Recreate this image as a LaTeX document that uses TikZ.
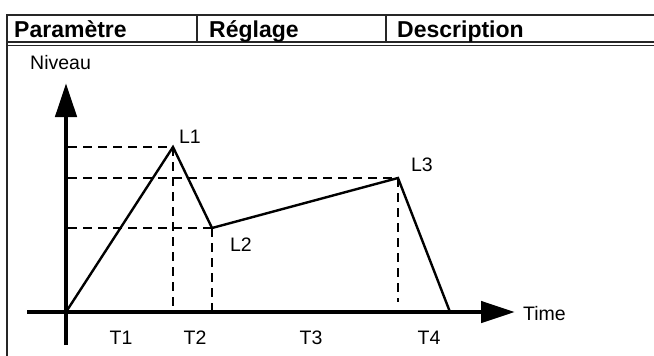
\documentclass[tikz,border=0pt]{standalone}
\usepackage{fontspec}
\setmainfont{Liberation Sans}
\usetikzlibrary{arrows.meta}
\begin{document}
\begin{tikzpicture}[x=1pt,y=-1pt,
  frame/.style={line width=1.3pt,draw=black!85},
  axis/.style={line width=4.5pt,-{Triangle[length=34pt,width=21pt]}},
  env/.style={line width=2.4pt,line join=miter},
  guide/.style={line width=2pt,dash pattern=on 9pt off 6pt},
  lbl/.style={font=\fontsize{19.5}{22}\selectfont,inner sep=0pt},
  hdr/.style={font=\fontsize{23}{25}\selectfont\bfseries,inner sep=0pt,anchor=base west}]
\useasboundingbox (0,0) rectangle (654,356);
% table frame
\draw[frame] (7,356) -- (7,15) -- (654,15);
\draw[frame] (7,42) -- (654,42);
\draw[frame] (7,45.5) -- (654,45.5);
\draw[frame] (197,15) -- (197,42);
\draw[frame] (386,15) -- (386,42);
\node[hdr] (hp) at (14,37) {Paramètre};
\node[hdr] (hr) at (209,37) {Réglage};
\node[hdr] (hd) at (397,37) {Description};
% points
\coordinate (O) at (66,312);
\coordinate (P1) at (173,147);
\coordinate (P2) at (212,228);
\coordinate (P3) at (398,178);
\coordinate (P4) at (450,312);
\coordinate (ybot) at (66,345);
\coordinate (ytop) at (66,83);
\coordinate (xl) at (27,312);
\coordinate (xr) at (515,312);
\coordinate (h1) at (68,147);
\coordinate (h3) at (68,178);
\coordinate (h2) at (68,228);
\coordinate (v1) at (173,306);
\coordinate (v2) at (212,312);
\coordinate (v3) at (398,302);
% guides
\draw[guide] (h1) -- (P1);
\draw[guide] (h3) -- (P3);
\draw[guide] (h2) -- (P2);
\draw[guide] (P1) -- (v1);
\draw[guide] (P2) -- (v2);
\draw[guide] (P3) -- (v3);
% axes
\draw[axis] (ybot) -- (ytop);
\draw[axis] (xl) -- (xr);
% envelope
\draw[env] (O) -- (P1) -- (P2) -- (P3) -- (P4);
% labels
\node[lbl,anchor=west] (niv) at (30,63) {Niveau};
\node[lbl,anchor=west] (time) at (523,314) {Time};
\node[lbl] (l1) at (190,137) {L1};
\node[lbl] (l2) at (241,245) {L2};
\node[lbl] (l3) at (422,165) {L3};
\node[lbl] (t1) at (121,338) {T1};
\node[lbl] (t2) at (195,338) {T2};
\node[lbl] (t3) at (311,338) {T3};
\node[lbl] (t4) at (429,338) {T4};
\end{tikzpicture}
\end{document}
